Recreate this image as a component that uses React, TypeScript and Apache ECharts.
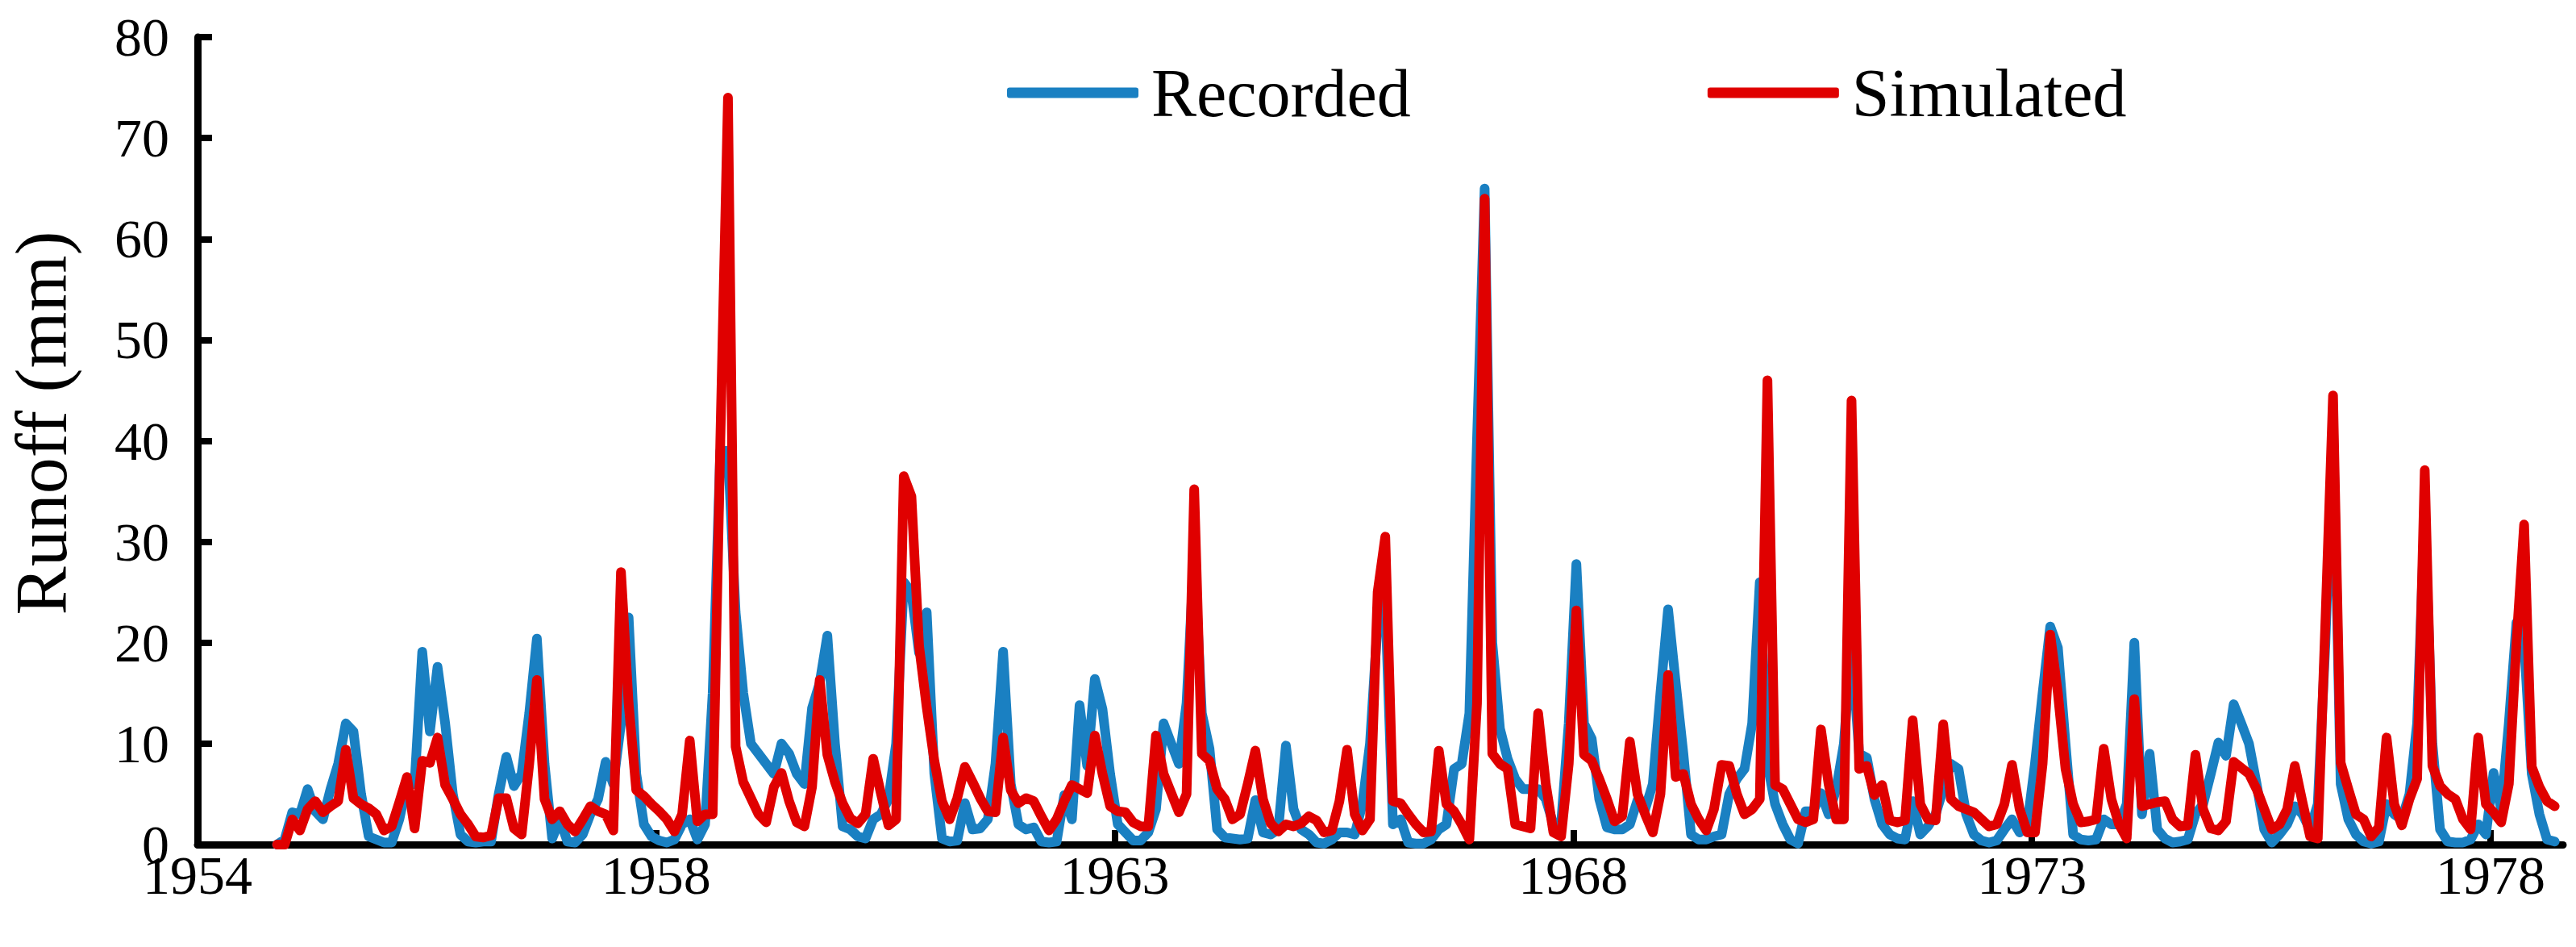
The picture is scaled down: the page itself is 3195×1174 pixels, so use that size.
import React, { useEffect, useRef } from "react";
import * as echarts from "echarts";

// Monthly runoff (mm); first value sits at month index 10 on the axis (axis origin = label "1954")
const START_MONTH = 10;

const recorded: number[] = [
  0, 0.5, 3.2, 3.0, 5.5, 3.3, 2.5, 5.5, 8.0, 12.0, 11.2, 5.0,
  0.8, 0.5, 0.2, 0.2, 2.5, 6.0, 6.0, 19.1, 11.2, 17.6, 12, 5,
  1, 0.3, 0.2, 0.3, 0.3, 5, 8.7, 5.8, 7.0, 13, 20.4, 8,
  0.6, 2.5, 0.3, 0.2, 1.0, 3.0, 4.5, 8.2, 6.0, 12, 22.5, 7,
  2.0, 0.8, 0.4, 0.2, 0.5, 2.0, 2.5, 0.5, 2.0, 15, 39, 39,
  23, 15, 10, 9, 8, 7, 10, 9, 7, 6, 13.5, 16,
  20.7, 10, 1.8, 1.5, 0.8, 0.6, 2.5, 3, 4.5, 10, 26, 25,
  19, 23, 7, 0.6, 0.3, 0.4, 4.1, 1.5, 1.6, 2.5, 8, 19.1,
  6, 2.0, 1.5, 1.7, 0.3, 0.2, 0.3, 4.9, 2.5, 13.8, 7.8, 16.4,
  13.4, 7, 2, 1.2, 0.4, 0.4, 1.2, 3.5, 12, 10, 8, 14,
  29, 13, 9.5, 1.5, 0.7, 0.6, 0.5, 0.6, 4.4, 1.2, 1.0, 1.5,
  9.8, 3.5, 1.5, 1.0, 0.2, 0.1, 0.5, 1.2, 1.2, 1.0, 4.0, 10,
  22, 24, 2.0, 2.5, 0.2, 0.1, 0.1, 0.5, 1.5, 2.0, 7.5, 8.0,
  13, 40, 65, 20, 11.5, 8.5, 6.5, 5.5, 5.5, 5.5, 4.5, 2.0,
  2.0, 12, 27.8, 12, 10.5, 4.5, 1.7, 1.5, 1.5, 2.0, 4.4, 3.5,
  6, 15, 23.3, 16, 9, 1.0, 0.5, 0.5, 0.8, 1.0, 5.0, 6.5,
  7.5, 12, 26, 8, 4.0, 2.0, 0.5, 0.1, 3.3, 3.3, 5.1, 3.0,
  5.5, 10, 20, 9, 8.6, 4.5, 2.0, 1.0, 0.6, 0.5, 4.3, 1.0,
  1.8, 3.0, 5.5, 8.0, 7.5, 3.0, 1.0, 0.4, 0.2, 0.4, 1.5, 2.5,
  1.2, 2.0, 8, 15, 21.6, 19.5, 10, 1.0, 0.5, 0.4, 0.5, 2.5,
  2.0, 2.0, 4, 20, 3.0, 9.0, 1.5, 0.6, 0.2, 0.3, 0.5, 3.0,
  4.0, 7, 10.1, 8.8, 13.9, 12, 10, 6, 1.5, 0.2, 1.0, 2.0,
  3.8, 3.0, 1.5, 4, 20, 42, 6, 2.5, 1.0, 0.3, 0.1, 0.3,
  4.0, 3.0, 2.5, 5, 12, 33, 10, 1.5, 0.3, 0.2, 0.2, 0.5,
  2.0, 1.0, 7.1, 3.5, 12, 22, 20, 7, 3, 0.5, 0.3,
];

const simulated: number[] = [
  0, 0, 2.5, 1.4, 3.5, 4.3, 3.2, 3.8, 4.3, 9.4, 4.6, 4.0,
  3.6, 3.0, 1.4, 1.8, 4.2, 6.7, 1.6, 8.3, 8.1, 10.6, 5.9, 4.5,
  3.0, 2.0, 0.8, 0.7, 0.9, 4.6, 4.6, 1.6, 1.0, 8.0, 16.3, 4.5,
  2.5, 3.3, 2.0, 1.3, 2.5, 3.8, 3.3, 3.0, 1.4, 27.0, 14.0, 5.4,
  4.8, 4.0, 3.3, 2.5, 1.3, 3.0, 10.3, 2.3, 3.0, 3.0, 40, 74,
  9.7, 6.2, 4.6, 3.0, 2.2, 5.7, 7.1, 4.3, 2.2, 1.8, 5.7, 16.3,
  8.9, 6.2, 4.1, 2.6, 2.1, 3.0, 8.5, 5.1, 1.9, 2.5, 36.5, 34.5,
  19.7, 13.6, 8.3, 4.3, 2.5, 4.6, 7.7, 6.2, 4.6, 3.3, 3.2, 10.6,
  5.4, 4.1, 4.6, 4.3, 2.8, 1.4, 2.5, 4.3, 5.9, 5.5, 5.1, 10.8,
  7.0, 3.8, 3.3, 3.2, 2.2, 1.8, 1.8, 10.8, 7.0, 5.1, 3.2, 5.0,
  35.2, 9.0, 8.3, 5.5, 4.5, 2.5, 3.0, 6.0, 9.3, 4.5, 2.1, 1.3,
  2.0, 1.8, 2.1, 2.8, 2.4, 1.2, 1.4, 4.3, 9.4, 3.0, 1.4, 2.5,
  25, 30.5, 4.3, 4.1, 3.0, 2.0, 1.2, 1.3, 9.3, 4.0, 3.3, 2.0,
  0.5, 14, 64, 9, 8.0, 7.5, 2.0, 1.8, 1.6, 13.0, 6.0, 1.2,
  0.8, 8.0, 23.2, 8.9, 8.3, 6.5, 4.5, 2.3, 2.8, 10.2, 5.0, 3.0,
  1.2, 5.0, 16.8, 6.7, 7.0, 4.0, 2.5, 1.4, 3.5, 7.9, 7.8, 5.0,
  3.0, 3.5, 4.5, 46, 5.9, 5.5, 4.0, 2.5, 2.2, 2.5, 11.4, 6.0,
  2.5, 2.5, 44, 7.5, 7.8, 4.9, 5.9, 2.4, 2.2, 2.4, 12.3, 4.0,
  2.5, 2.4, 11.9, 4.5, 3.8, 3.5, 3.2, 2.5, 1.8, 2.0, 4.0, 7.9,
  3.5, 1.2, 1.2, 8.0, 20.8, 15.0, 7.5, 4.0, 2.2, 2.3, 2.5, 9.5,
  4.5, 2.0, 0.6, 14.4, 3.8, 4.0, 4.2, 4.3, 2.5, 1.8, 1.9, 8.9,
  3.5, 1.6, 1.4, 2.3, 8.2, 7.6, 7.0, 5.5, 3.5, 1.5, 2.0, 3.5,
  7.8, 4.2, 0.8, 0.6, 22, 44.5, 8.1, 5.5, 3.0, 2.5, 0.8, 1.7,
  10.6, 4.0, 1.9, 4.5, 6.5, 37.1, 7.8, 5.8, 5.0, 4.5, 2.5, 1.5,
  10.6, 4.0, 3.2, 2.2, 6.0, 20, 31.7, 7.7, 5.7, 4.3, 3.8,
];

const tickMonths = [0, 60, 120, 180, 240, 300];
const tickLabels = ["1954", "1958", "1963", "1968", "1973", "1978"];
const seriesNames = ["Recorded", "Simulated"];
const seriesColors = ["#1a80c2", "#e00000"];

const FONT = "'Liberation Serif', 'Times New Roman', serif";

export default function App() {
  const ref = useRef<HTMLDivElement>(null);

  useEffect(() => {
    if (!ref.current) return;
    const chart = echarts.init(ref.current, undefined, { renderer: "svg" });
    const toPoints = (arr: number[]) =>
      arr.map((v, i) => [START_MONTH + i + 0.4, v]);

    chart.setOption({
      animation: false,
      backgroundColor: "#ffffff",
      grid: {
        left: 245,
        right: 16,
        top: 46,
        bottom: 127,
        containLabel: false,
        outerBoundsMode: "none",
      },
      legend: {
        data: seriesNames,
        left: 1244,
        top: 64,
        itemWidth: 163,
        itemHeight: 13,
        itemGap: 368,
        icon: "roundRect",
        textStyle: {
          fontFamily: FONT,
          fontSize: 84,
          color: "#000",
          padding: [0, 0, 0, 11],
          lineHeight: 92,
        },
      },
      xAxis: {
        type: "value",
        min: 0,
        max: 309.5,
        interval: 60,
        axisLine: { show: true, onZero: false, lineStyle: { color: "#000", width: 9 } },
        axisTick: {
          show: true,
          inside: true,
          length: 18,
          lineStyle: { color: "#000", width: 8 },
          customValues: tickMonths,
        },
        axisLabel: {
          fontFamily: FONT,
          fontSize: 68,
          lineHeight: 36,
          color: "#000",
          margin: 20,
          customValues: tickMonths,
          formatter: (v: number) => {
            const i = tickMonths.indexOf(Math.round(v));
            return i >= 0 ? tickLabels[i] : "";
          },
        },
        splitLine: { show: false },
      },
      yAxis: {
        type: "value",
        min: 0,
        max: 80,
        interval: 10,
        name: "Runoff (mm)",
        nameLocation: "middle",
        nameRotate: 90,
        nameGap: 149,
        nameTextStyle: {
          fontFamily: FONT,
          fontSize: 90,
          color: "#000",
          padding: [0, 0, 0, 44],
        },
        axisLine: { show: true, lineStyle: { color: "#000", width: 9 } },
        axisTick: { show: true, inside: true, length: 18, lineStyle: { color: "#000", width: 8 } },
        axisLabel: { fontFamily: FONT, fontSize: 68, lineHeight: 36, color: "#000", margin: 35 },
        splitLine: { show: false },
      },
      series: [
        {
          name: seriesNames[0],
          type: "line",
          data: toPoints(recorded),
          showSymbol: false,
          symbol: "none",
          color: seriesColors[0],
          lineStyle: { width: 12, color: seriesColors[0], cap: "round", join: "round" },
          z: 2,
        },
        {
          name: seriesNames[1],
          type: "line",
          data: toPoints(simulated),
          showSymbol: false,
          symbol: "none",
          color: seriesColors[1],
          lineStyle: { width: 12, color: seriesColors[1], cap: "round", join: "round" },
          z: 3,
        },
      ],
    });
    return () => chart.dispose();
  }, []);

  return (
    <div
      ref={ref}
      style={{ position: "fixed", left: 0, top: 0, width: 3195, height: 1174 }}
    />
  );
}
